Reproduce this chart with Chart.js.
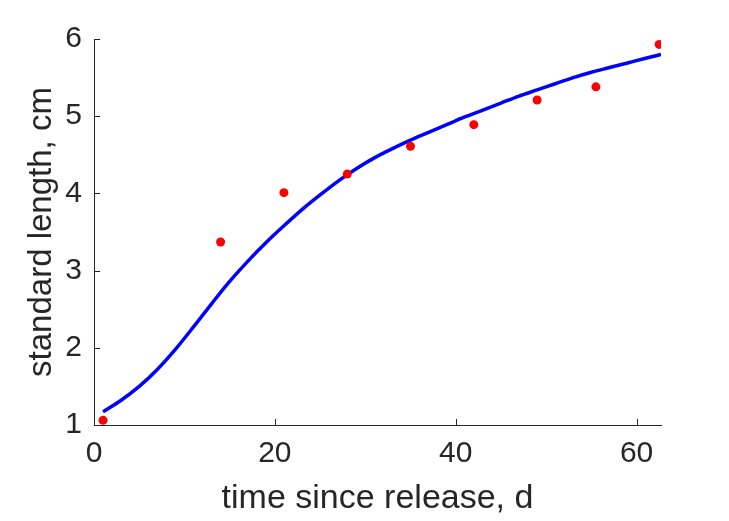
<!DOCTYPE html>
<html>
<head>
<meta charset="utf-8">
<script src="https://cdn.jsdelivr.net/npm/chart.js@4"></script>
<style>
  html, body { margin: 0; padding: 0; background: #fff; }
  #wrap { width: 729px; height: 521px; }
</style>
</head>
<body>
<div id="wrap"><canvas id="growth_chart"></canvas></div>
<script>
// measured lengths
var sampleDays = [1, 14, 21, 28, 35, 42, 49, 55.5, 62.5];
var sampleLength = [1.06, 3.37, 4.01, 4.25, 4.61, 4.89, 5.21, 5.38, 5.93];

// fitted growth curve
var fitDays = [1, 3, 5, 7, 9, 11, 13, 15, 17, 19, 21, 23, 25, 27, 29, 31, 33, 35, 37, 39,
               41, 43, 45, 47, 49, 51, 53, 55, 57, 59, 61, 62.7];
var fitLength = [1.17, 1.32, 1.50, 1.72, 1.98, 2.27, 2.57, 2.86, 3.12, 3.36, 3.58, 3.79, 3.98, 4.16, 4.32, 4.46,
                 4.58, 4.69, 4.79, 4.89, 4.99, 5.08, 5.17, 5.26, 5.34, 5.42, 5.50, 5.57, 5.63, 5.69, 5.75, 5.80];

var xTicks = [0, 20, 40, 60];
var yTicks = [1, 2, 3, 4, 5, 6];

var axisColor = '#262626';
var fontFamily = '"Liberation Sans", Arial, Helvetica, sans-serif';

function toPoints(xs, ys) {
  return xs.map(function (x, i) { return { x: x, y: ys[i] }; });
}

// matlab style ticks pointing into the plot
var innerTicks = {
  id: 'innerTicks',
  afterDraw: function (chart) {
    var ctx = chart.ctx;
    var area = chart.chartArea;
    var xs = chart.scales.x, ys = chart.scales.y;
    ctx.save();
    ctx.strokeStyle = axisColor;
    ctx.lineWidth = 1;
    ctx.beginPath();
    xTicks.forEach(function (v) {
      var px = Math.round(xs.getPixelForValue(v)) + 0.5;
      ctx.moveTo(px, area.bottom);
      ctx.lineTo(px, area.bottom - 6);
    });
    yTicks.forEach(function (v) {
      var py = Math.round(ys.getPixelForValue(v)) + 0.5;
      ctx.moveTo(area.left, py);
      ctx.lineTo(area.left + 6, py);
    });
    ctx.stroke();
    ctx.restore();
  }
};

const config = {
  type: 'scatter',
  data: {
    datasets: [{
      label: 'fit',
      data: toPoints(fitDays, fitLength),
      showLine: true,
      borderColor: '#0000ff',
      backgroundColor: '#0000ff',
      borderWidth: 3.5,
      pointRadius: 0,
      cubicInterpolationMode: 'monotone',
      order: 2
    }, {
      label: 'data',
      data: toPoints(sampleDays, sampleLength),
      showLine: false,
      pointRadius: 4.5,
      pointBackgroundColor: '#ff0000',
      pointBorderColor: '#ff0000',
      pointBorderWidth: 0,
      order: 1
    }]
  },
  options: {
    responsive: true,
    maintainAspectRatio: false,
    animation: false,
    events: [],
    layout: {
      padding: { left: 0, top: 39, right: 68, bottom: 0 }
    },
    plugins: {
      legend: { display: false },
      tooltip: { enabled: false }
    },
    scales: {
      x: {
        type: 'linear',
        min: 0,
        max: 62.7,
        afterBuildTicks: function (scale) {
          scale.ticks = xTicks.map(function (v) { return { value: v }; });
        },
        afterFit: function (scale) { scale.height = 96; },
        grid: { drawOnChartArea: false, drawTicks: false },
        border: { display: true, color: axisColor, width: 1 },
        ticks: {
          color: axisColor,
          padding: 11,
          font: { family: fontFamily, size: 30 }
        },
        title: {
          display: true,
          text: 'time since release, d',
          color: axisColor,
          padding: { top: 3, bottom: 2 },
          font: { family: fontFamily, size: 34 }
        }
      },
      y: {
        type: 'linear',
        min: 1,
        max: 6,
        afterBuildTicks: function (scale) {
          scale.ticks = yTicks.map(function (v) { return { value: v }; });
        },
        afterFit: function (scale) { scale.width = 94; },
        grid: { drawOnChartArea: false, drawTicks: false },
        border: { display: true, color: axisColor, width: 1 },
        ticks: {
          color: axisColor,
          padding: 12,
          font: { family: fontFamily, size: 30 }
        },
        title: {
          display: true,
          text: 'standard length, cm',
          color: axisColor,
          padding: { top: 22, bottom: 0 },
          font: { family: fontFamily, size: 33 }
        }
      }
    }
  },
  plugins: [innerTicks]
};

const growth_chart = new Chart(document.getElementById('growth_chart'), config);
</script>
</body>
</html>
